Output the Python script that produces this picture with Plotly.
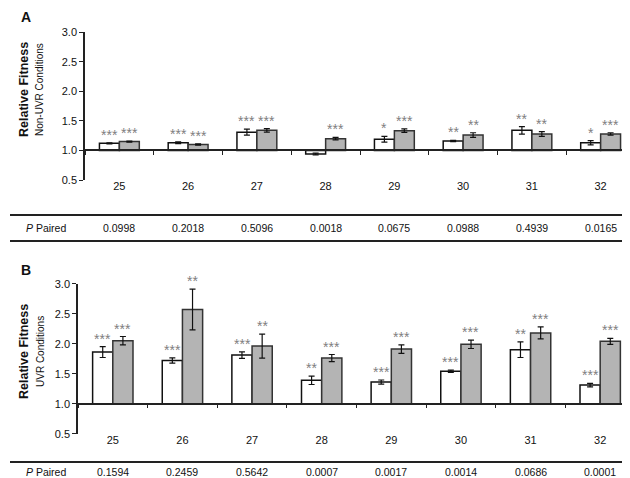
import plotly.graph_objects as go

W, H = 630, 478

cats = ["25", "26", "27", "28", "29", "30", "31", "32"]

# Panel A: Non-UVR conditions
A_white = [1.12, 1.13, 1.31, 0.94, 1.19, 1.16, 1.34, 1.13]
A_white_err = [0.01, 0.015, 0.05, 0.015, 0.05, 0.01, 0.065, 0.035]
A_gray = [1.15, 1.10, 1.34, 1.20, 1.335, 1.26, 1.28, 1.28]
A_gray_err = [0.01, 0.01, 0.03, 0.02, 0.03, 0.04, 0.04, 0.02]
A_white_sig = ["***", "***", "***", "", "*", "**", "**", "*"]
A_gray_sig = ["***", "***", "***", "***", "***", "**", "**", "***"]
A_p = ["0.0998", "0.2018", "0.5096", "0.0018", "0.0675", "0.0988", "0.4939", "0.0165"]

# Panel B: UVR conditions
B_white = [1.86, 1.72, 1.81, 1.39, 1.36, 1.54, 1.90, 1.31]
B_white_err = [0.09, 0.045, 0.055, 0.07, 0.035, 0.02, 0.13, 0.03]
B_gray = [2.05, 2.57, 1.96, 1.76, 1.91, 1.99, 2.18, 2.04]
B_gray_err = [0.07, 0.34, 0.20, 0.06, 0.07, 0.07, 0.10, 0.05]
B_white_sig = ["***", "***", "***", "**", "***", "***", "**", "***"]
B_gray_sig = ["***", "**", "**", "***", "***", "***", "***", "***"]
B_p = ["0.1594", "0.2459", "0.5642", "0.0007", "0.0017", "0.0014", "0.0686", "0.0001"]

BASE = 1.0
Y_RANGE = [0.5, 3.0]
FONT = "Arial, Liberation Sans, sans-serif"
GRAY = "#b4b4b4"
STAR = "#808080"


def py(px):
    return 1 - px / H


def px_x(px):
    return px / W


panels = [
    dict(white=A_white, werr=A_white_err, gray=A_gray, gerr=A_gray_err,
         wsig=A_white_sig, gsig=A_gray_sig, p=A_p,
         xdom=[px_x(77), px_x(627)], ydom=[py(172), py(24.3)],
         letter="A", letter_y=9, sub="Non-UVR Conditions", title_y=82,
         tab=(207, 233), tab_text=220),
    dict(white=B_white, werr=B_white_err, gray=B_gray, gerr=B_gray_err,
         wsig=B_white_sig, gsig=B_gray_sig, p=B_p,
         xdom=[px_x(70), px_x(627)], ydom=[py(425.7), py(275.7)],
         letter="B", letter_y=262, sub="UVR Conditions", title_y=344,
         tab=(454, 473), tab_text=463.5),
]

fig = go.Figure()
annotations = []
shapes = []
layout = {}

for i, pn in enumerate(panels):
    sfx = "" if i == 0 else str(i + 1)
    xa, ya = "x" + sfx, "y" + sfx
    fig.add_trace(go.Bar(
        x=cats, y=[v - BASE for v in pn["white"]], base=BASE,
        marker=dict(color="white", line=dict(color="#111111", width=1.5)),
        error_y=dict(type="data", array=pn["werr"], color="#111111",
                     thickness=1.2, width=3),
        xaxis=xa, yaxis=ya, offsetgroup="w", showlegend=False))
    fig.add_trace(go.Bar(
        x=cats, y=[v - BASE for v in pn["gray"]], base=BASE,
        marker=dict(color=GRAY, line=dict(color="#333333", width=1.5)),
        error_y=dict(type="data", array=pn["gerr"], color="#111111",
                     thickness=1.2, width=3),
        xaxis=xa, yaxis=ya, offsetgroup="g", showlegend=False))

    y0, y1 = pn["ydom"]
    pos = y0 + (BASE - Y_RANGE[0]) / (Y_RANGE[1] - Y_RANGE[0]) * (y1 - y0)
    layout["xaxis" + sfx] = dict(
        domain=pn["xdom"], anchor="free", position=pos, type="category",
        categoryorder="array", categoryarray=cats, range=[-0.5, len(cats) - 0.5],
        tickson="boundaries", ticks="outside", ticklen=4, tickcolor="#222",
        showline=True, linecolor="#222", linewidth=1.5, showgrid=False,
        tickangle=0, ticklabelstandoff=26,
        tickfont=dict(size=11, color="#111", family=FONT), fixedrange=True)
    layout["yaxis" + sfx] = dict(
        domain=pn["ydom"], anchor=xa, range=Y_RANGE, dtick=0.5, tickformat=".1f",
        ticks="outside", ticklen=4, tickcolor="#222", showline=True,
        linecolor="#222", linewidth=1.5, showgrid=False, zeroline=False,
        tickfont=dict(size=11, color="#111", family=FONT), fixedrange=True)

    # significance stars (x given as category index)
    for vals, errs, sigs, shift in ((pn["white"], pn["werr"], pn["wsig"], -10),
                                    (pn["gray"], pn["gerr"], pn["gsig"], 10)):
        for k, (v, e, s) in enumerate(zip(vals, errs, sigs)):
            if not s:
                continue
            annotations.append(dict(
                x=k, y=max(v, BASE) + e, xref=xa, yref=ya, text=s,
                showarrow=False, xshift=shift, yshift=-2,
                xanchor="center", yanchor="bottom",
                font=dict(size=14, color=STAR, family=FONT)))

    # panel letter and axis titles
    annotations.append(dict(x=px_x(18), y=py(pn["letter_y"]), xref="paper", yref="paper",
                            text="<b>" + pn["letter"] + "</b>", showarrow=False,
                            xanchor="center", yanchor="middle",
                            font=dict(size=14, color="#111", family=FONT)))
    annotations.append(dict(x=px_x(16), y=py(pn["title_y"]), xref="paper", yref="paper",
                            text="<b>Relative Fitness</b>", textangle=-90, showarrow=False,
                            xanchor="center", yanchor="middle",
                            font=dict(size=12.5, color="#111", family=FONT)))
    annotations.append(dict(x=px_x(32), y=py(pn["title_y"]), xref="paper", yref="paper",
                            text=pn["sub"], textangle=-90, showarrow=False,
                            xanchor="center", yanchor="middle",
                            font=dict(size=10, color="#111", family=FONT)))

    # P paired table row
    t0, t1 = pn["tab"]
    for ty in (t0, t1):
        shapes.append(dict(type="line", xref="paper", yref="paper",
                           x0=px_x(2), x1=px_x(627), y0=py(ty), y1=py(ty),
                           line=dict(color="#222", width=2)))
    annotations.append(dict(x=px_x(16), y=py(pn["tab_text"]), xref="paper", yref="paper",
                            text="<i>P</i> Paired", showarrow=False,
                            xanchor="left", yanchor="middle",
                            font=dict(size=10.5, color="#111", family=FONT)))
    for k, pv in enumerate(pn["p"]):
        annotations.append(dict(x=k, y=py(pn["tab_text"]), xref=xa, yref="paper",
                                text=pv, showarrow=False,
                                xanchor="center", yanchor="middle",
                                font=dict(size=10.5, color="#111", family=FONT)))

fig.update_layout(
    width=W, height=H,
    margin=dict(l=0, r=0, t=0, b=0, autoexpand=False),
    paper_bgcolor="white", plot_bgcolor="rgba(0,0,0,0)",
    barmode="group", bargap=0.42, bargroupgap=0,
    annotations=annotations, shapes=shapes,
    font=dict(family=FONT, color="#111"),
    **layout)

fig.write_html("out.html")
